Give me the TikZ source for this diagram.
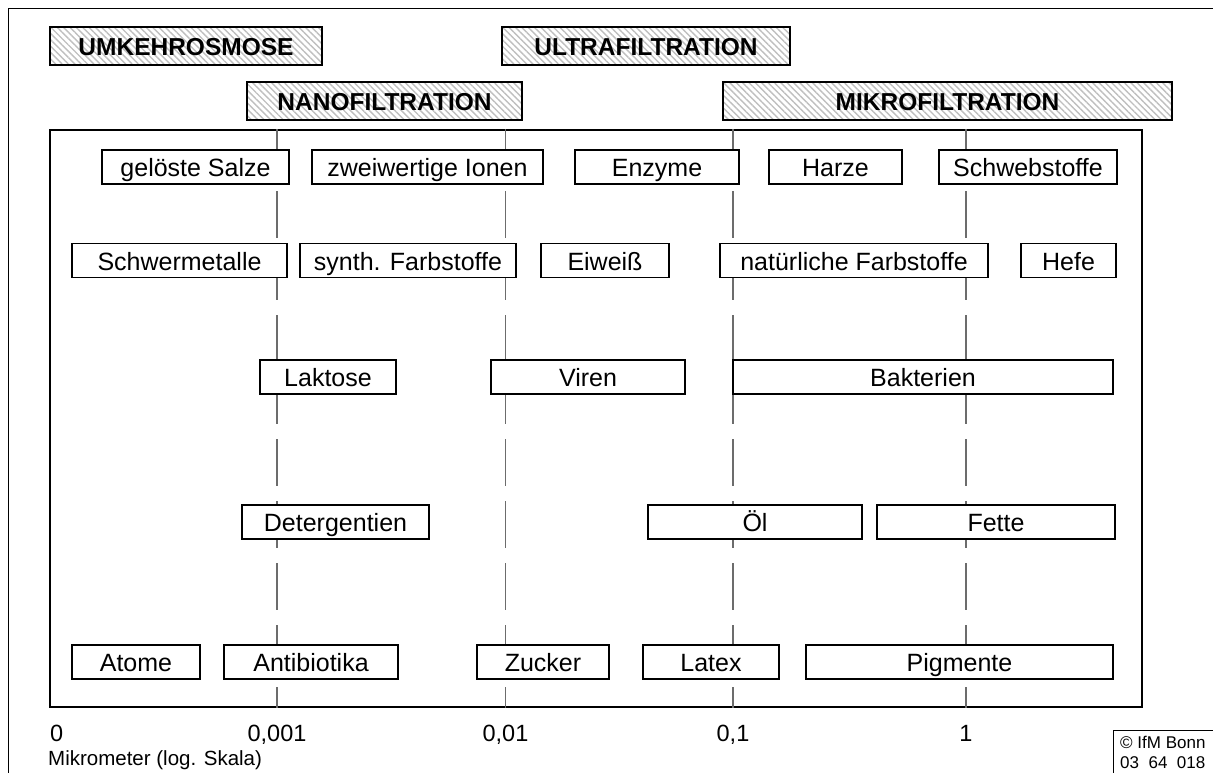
\documentclass[tikz,border=0pt]{standalone}
\usepackage{fontspec}
\setmainfont{Liberation Sans}
\usetikzlibrary{patterns.meta}
\tikzset{
  lbl/.style={draw=black, line width=1.6pt, fill=white, rectangle, inner sep=0pt,
    minimum height=34pt, text height=19.5pt, text depth=0pt,
    font=\fontsize{25}{29}\selectfont},
  hatch/.style={draw=black, line width=1.6pt, rectangle, inner sep=0pt,
    minimum height=38pt, text height=19pt, text depth=0pt,
    font=\fontsize{24.5}{28}\selectfont\bfseries,
    pattern={Lines[angle=-45,distance=4.5pt,line width=1.4pt]}, pattern color=gray!50},
  dline/.style={draw=gray!85!black, line width=1.3pt, dash pattern=on 47pt off 15pt},
  tick/.style={inner sep=0pt, anchor=base, font=\fontsize{23.5}{27}\selectfont},
}
\begin{document}
\begin{tikzpicture}[x=1pt,y=-1pt]
\useasboundingbox (0,0) rectangle (1213,772);
\clip (0,0) rectangle (1213,772);
% outer frame (cut by the page)
\draw[line width=1.3pt] (8.5,790) -- (8.5,8.5) -- (1230,8.5);
% technique bars
\node[hatch, minimum width=272pt] (ro) at (186,46) {UMKEHROSMOSE};
\node[hatch, minimum width=288pt] (uf) at (646,46) {ULTRAFILTRATION};
\node[hatch, minimum width=275pt] (nf) at (384.5,101) {NANOFILTRATION};
\node[hatch, minimum width=449pt] (mf) at (947.5,101) {MIKROFILTRATION};
% diagram frame
\node[draw=black, line width=1.6pt, rectangle, inner sep=0pt, minimum width=1092pt, minimum height=577pt] (frame) at (596,418.5) {};
% axis labels
\node[tick, anchor=base west] (t0) at (50,741) {0};
\node[tick] (t1) at (277,741) {0,001};
\node[tick] (t2) at (505.5,741) {0,01};
\node[tick] (t3) at (733,741) {0,1};
\node[tick] (t4) at (966,741) {1};
\node[inner sep=0pt, anchor=base west, font=\fontsize{20.5}{24}\selectfont] (unit) at (48,765) {Mikrometer (log. Skala)};
% dashed decade lines
\foreach \t in {t1,t2,t3,t4}
  \draw[dline] (\t |- frame.north) -- (\t |- frame.south);
% row 1
\node[lbl, minimum width=187pt] (salze) at (195.5,167) {gelöste Salze};
\node[lbl, minimum width=231pt] (ionen) at (427.5,167) {zweiwertige Ionen};
\node[lbl, minimum width=164pt] (enzyme) at (657,167) {Enzyme};
\node[lbl, minimum width=133pt] (harze) at (835.5,167) {Harze};
\node[lbl, minimum width=178pt] (schweb) at (1028,167) {Schwebstoffe};
% row 2
\node[lbl, minimum width=215pt] (metalle) at (179.5,260.5) {Schwermetalle};
\node[lbl, minimum width=216pt] (synth) at (408,260.5) {synth. Farbstoffe};
\node[lbl, minimum width=128pt] (eiweiss) at (605,260.5) {Eiweiß};
\node[lbl, minimum width=268pt] (natur) at (854,260.5) {natürliche Farbstoffe};
\node[lbl, minimum width=95pt] (hefe) at (1068.5,260.5) {Hefe};
% row 3
\node[lbl, minimum width=136pt] (laktose) at (328,377) {Laktose};
\node[lbl, minimum width=194pt] (viren) at (588,377) {Viren};
\node[lbl, minimum width=380pt] (bakt) at (923,377) {Bakterien};
% row 4
\node[lbl, minimum width=187pt] (deterg) at (335.5,522) {Detergentien};
\node[lbl, minimum width=214pt] (oel) at (755,522) {Öl};
\node[lbl, minimum width=238pt] (fette) at (996,522) {Fette};
% row 5
\node[lbl, minimum width=128pt] (atome) at (136,662) {Atome};
\node[lbl, minimum width=174pt] (antib) at (311,662) {Antibiotika};
\node[lbl, minimum width=132pt] (zucker) at (543,662) {Zucker};
\node[lbl, minimum width=136pt] (latex) at (711,662) {Latex};
\node[lbl, minimum width=307pt] (pigm) at (959.5,662) {Pigmente};
% copyright
\draw[line width=1.3pt] (1230,730.5) -- (1113.5,730.5) -- (1113.5,790);
\node[inner sep=0pt, anchor=base west, font=\fontsize{17}{20}\selectfont] (copy) at (1120,748) {© IfM Bonn};
\node[inner sep=0pt, anchor=base west, font=\fontsize{17}{20}\selectfont] (code) at (1120,768) {03\ \ 64\ \ 018};
\end{tikzpicture}
\end{document}
